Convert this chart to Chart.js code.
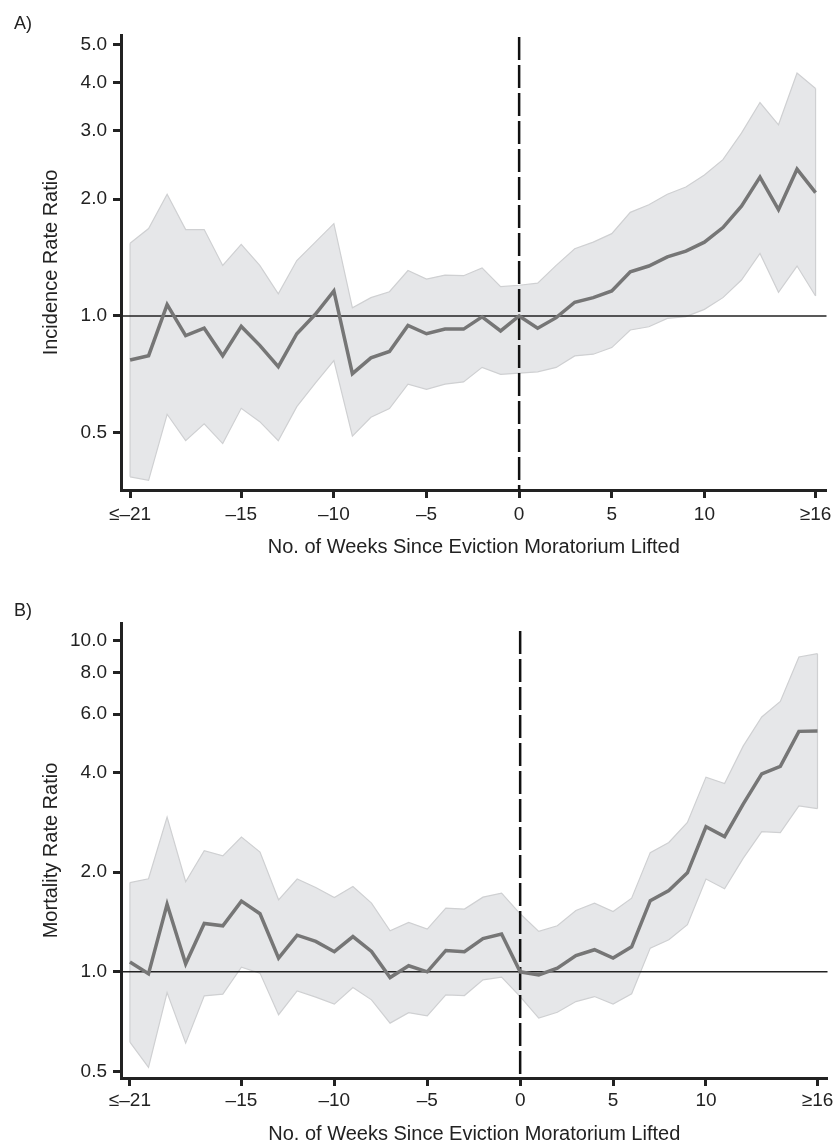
<!DOCTYPE html>
<html>
<head>
<meta charset="utf-8">
<script src="https://cdn.jsdelivr.net/npm/chart.js@4.4.0/dist/chart.umd.min.js"></script>
<style>
  body { margin: 0; background: #fff; }
  #wrap { position: relative; width: 837px; height: 1147px; }
  .panel { position: absolute; left: 0; width: 837px; }
  .lbl { position: absolute; left: 14px; font: 18px "Liberation Sans", Arial, sans-serif; line-height: 20px; color: #222; }
</style>
</head>
<body>
<div id="wrap">
  <div class="panel" style="top:0;height:575px"><canvas id="chartA"></canvas></div>
  <div class="panel" style="top:575px;height:572px"><canvas id="chartB"></canvas></div>
  <div class="lbl" style="top:13px">A)</div>
  <div class="lbl" style="top:600px">B)</div>
</div>
<script>
// weeks since moratorium lifted (-21 = "≤-21", 16 = "≥16")
const weeks = [-21, -20, -19, -18, -17, -16, -15, -14, -13, -12, -11, -10, -9, -8, -7, -6, -5, -4, -3,
  -2, -1, 0, 1, 2, 3, 4, 5, 6, 7, 8, 9, 10, 11, 12, 13, 14, 15, 16];

// A) incidence rate ratio
const irrEst = [0.77, 0.79, 1.07, 0.89, 0.93, 0.79, 0.94, 0.84, 0.74, 0.90, 1.01, 1.16, 0.71, 0.78, 0.81,
  0.945, 0.90, 0.925, 0.925, 0.995, 0.915, 1.00, 0.93, 0.99, 1.085, 1.115, 1.16, 1.30, 1.345, 1.42,
  1.47, 1.55, 1.69, 1.92, 2.28, 1.88, 2.39, 2.08];
const irrUpper = [1.54, 1.68, 2.06, 1.67, 1.67, 1.35, 1.53, 1.35, 1.14, 1.39, 1.55, 1.73, 1.05, 1.115,
  1.155, 1.31, 1.245, 1.275, 1.27, 1.33, 1.19, 1.20, 1.215, 1.35, 1.49, 1.55, 1.63, 1.85, 1.935, 2.06,
  2.15, 2.31, 2.53, 2.96, 3.55, 3.11, 4.23, 3.86];
const irrLower = [0.385, 0.377, 0.558, 0.477, 0.527, 0.469, 0.578, 0.534, 0.477, 0.584, 0.671, 0.767,
  0.49, 0.548, 0.577, 0.667, 0.647, 0.667, 0.676, 0.737, 0.707, 0.712, 0.718, 0.737, 0.789, 0.797,
  0.829, 0.92, 0.938, 0.986, 0.996, 1.04, 1.115, 1.238, 1.45, 1.151, 1.345, 1.126];

// B) mortality rate ratio
const mrrEst = [1.07, 0.986, 1.60, 1.057, 1.40, 1.377, 1.635, 1.497, 1.10, 1.29, 1.235, 1.15, 1.278,
  1.152, 0.961, 1.043, 1.0, 1.16, 1.15, 1.26, 1.30, 1.0, 0.979, 1.026, 1.12, 1.166, 1.10, 1.19, 1.64,
  1.76, 1.99, 2.74, 2.56, 3.21, 3.96, 4.17, 5.32, 5.33];
const mrrUpper = [1.86, 1.91, 2.93, 1.87, 2.32, 2.24, 2.55, 2.30, 1.65, 1.906, 1.797, 1.677, 1.81,
  1.612, 1.33, 1.409, 1.346, 1.557, 1.547, 1.68, 1.729, 1.497, 1.324, 1.377, 1.532, 1.612, 1.521,
  1.669, 2.29, 2.457, 2.826, 3.87, 3.70, 4.80, 5.88, 6.55, 8.92, 9.13];
const mrrLower = [0.613, 0.515, 0.866, 0.609, 0.846, 0.856, 1.033, 0.991, 0.742, 0.876, 0.839, 0.799,
  0.897, 0.823, 0.70, 0.753, 0.736, 0.852, 0.848, 0.946, 0.964, 0.842, 0.725, 0.755, 0.813, 0.842,
  0.799, 0.858, 1.179, 1.249, 1.387, 1.906, 1.781, 2.2, 2.65, 2.63, 3.17, 3.11];

const xTicks = [-21, -15, -10, -5, 0, 5, 10, 16];
const xTickLabels = ["≤–21", "–15", "–10", "–5", "0", "5", "10", "≥16"];
const yTicksA = [0.5, 1, 2, 3, 4, 5];
const yTicksB = [0.5, 1, 2, 4, 6, 8, 10];

Chart.defaults.font.family = "'Liberation Sans', Arial, sans-serif";
Chart.defaults.color = "#222";

const ink = "#222";
const bandFill = "#e6e7e9";
const bandEdge = "#cfd0d2";

// draws the 1.0 line, the dashed line at week 0 and the band's end edges,
// after the band and before the estimate line
const refLines = {
  id: "refLines",
  beforeDatasetDraw(chart, args, opts) {
    if (args.index !== 2) return;
    const { ctx, chartArea, scales } = chart;
    const up = chart.data.datasets[0].data;
    const lo = chart.data.datasets[1].data;
    ctx.save();
    ctx.strokeStyle = bandEdge;
    ctx.lineWidth = 1.2;
    [0, up.length - 1].forEach((i) => {
      const px = scales.x.getPixelForValue(up[i].x);
      ctx.beginPath();
      ctx.moveTo(px, scales.y.getPixelForValue(up[i].y));
      ctx.lineTo(px, scales.y.getPixelForValue(lo[i].y));
      ctx.stroke();
    });
    const py = scales.y.getPixelForValue(1);
    ctx.strokeStyle = ink;
    ctx.lineWidth = 1.5;
    ctx.beginPath();
    ctx.moveTo(chartArea.left, py);
    ctx.lineTo(chartArea.right, py);
    ctx.stroke();
    const px0 = scales.x.getPixelForValue(0);
    ctx.strokeStyle = "#111";
    ctx.lineWidth = 2.5;
    ctx.setLineDash([23, 5]);
    ctx.beginPath();
    ctx.moveTo(px0, chartArea.top + opts.dashTop);
    ctx.lineTo(px0, chartArea.bottom);
    ctx.stroke();
    ctx.restore();
  },
};

function points(vals) {
  return weeks.map((w, i) => ({ x: w, y: vals[i] }));
}

function makeChart(id, cfg) {
  return new Chart(document.getElementById(id).getContext("2d"), {
    type: "line",
    data: {
      datasets: [
        {
          data: points(cfg.upper),
          borderColor: bandEdge,
          borderWidth: 1.2,
          backgroundColor: bandFill,
          fill: "+1",
          pointRadius: 0,
          order: 1,
        },
        {
          data: points(cfg.lower),
          borderColor: bandEdge,
          borderWidth: 1.2,
          fill: false,
          pointRadius: 0,
          order: 2,
        },
        {
          data: points(cfg.est),
          borderColor: "#767676",
          borderWidth: 3.5,
          fill: false,
          pointRadius: 0,
          order: 0,
        },
      ],
    },
    options: {
      responsive: true,
      maintainAspectRatio: false,
      animation: false,
      layout: { padding: cfg.padding },
      plugins: {
        legend: { display: false },
        tooltip: { enabled: false },
        filler: { drawTime: "beforeDatasetsDraw" },
        refLines: { dashTop: cfg.dashTop },
      },
      scales: {
        x: {
          type: "linear",
          min: cfg.xMin,
          max: cfg.xMax,
          afterBuildTicks: (s) => {
            s.ticks = xTicks.map((v) => ({ value: v }));
          },
          afterFit: (s) => {
            s.height = cfg.xHeight;
          },
          ticks: {
            autoSkip: false,
            maxRotation: 0,
            padding: cfg.xTickPad,
            font: { size: 19 },
            color: ink,
            callback: (v) => xTickLabels[xTicks.indexOf(v)],
          },
          grid: { drawOnChartArea: false, tickLength: 8, tickWidth: 3, tickColor: ink },
          border: { display: true, width: 3, color: ink },
          title: {
            display: true,
            text: "No. of Weeks Since Eviction Moratorium Lifted",
            font: { size: 20 },
            color: ink,
            padding: { top: 4, bottom: cfg.xTitlePad },
          },
        },
        y: {
          type: "logarithmic",
          min: cfg.yMin,
          max: cfg.yMax,
          afterBuildTicks: (s) => {
            s.ticks = cfg.yTicks.map((v) => ({ value: v }));
          },
          afterFit: (s) => {
            s.width = 86;
          },
          ticks: {
            autoSkip: false,
            padding: 6,
            font: { size: 19 },
            color: ink,
            callback: (v) => Number(v).toFixed(1),
          },
          grid: { drawOnChartArea: false, tickLength: 8, tickWidth: 3, tickColor: ink },
          border: { display: true, width: 3, color: ink },
          title: {
            display: true,
            text: cfg.yTitle,
            font: { size: 20 },
            color: ink,
            padding: { top: 4, bottom: 4 },
          },
        },
      },
    },
    plugins: [refLines],
  });
}

/*------------------------------------------
A) incidence
-------------------------------------------*/
makeChart("chartA", {
  est: irrEst,
  upper: irrUpper,
  lower: irrLower,
  yTitle: "Incidence Rate Ratio",
  yTicks: yTicksA,
  yMin: 0.356,
  yMax: 5.3,
  xMin: -21.49,
  xMax: 16.59,
  padding: { left: 35, top: 35, right: 10, bottom: 12 },
  xHeight: 73,
  xTickPad: 5.5,
  xTitlePad: 4,
  dashTop: 2,
});

/*------------------------------------------
B) mortality
-------------------------------------------*/
makeChart("chartB", {
  est: mrrEst,
  upper: mrrUpper,
  lower: mrrLower,
  yTitle: "Mortality Rate Ratio",
  yTicks: yTicksB,
  yMin: 0.478,
  yMax: 11.3,
  xMin: -21.48,
  xMax: 16.54,
  padding: { left: 35, top: 48, right: 9, bottom: 1 },
  xHeight: 68,
  xTickPad: 3.6,
  xTitlePad: 0,
  dashTop: 8,
});
</script>
</body>
</html>
